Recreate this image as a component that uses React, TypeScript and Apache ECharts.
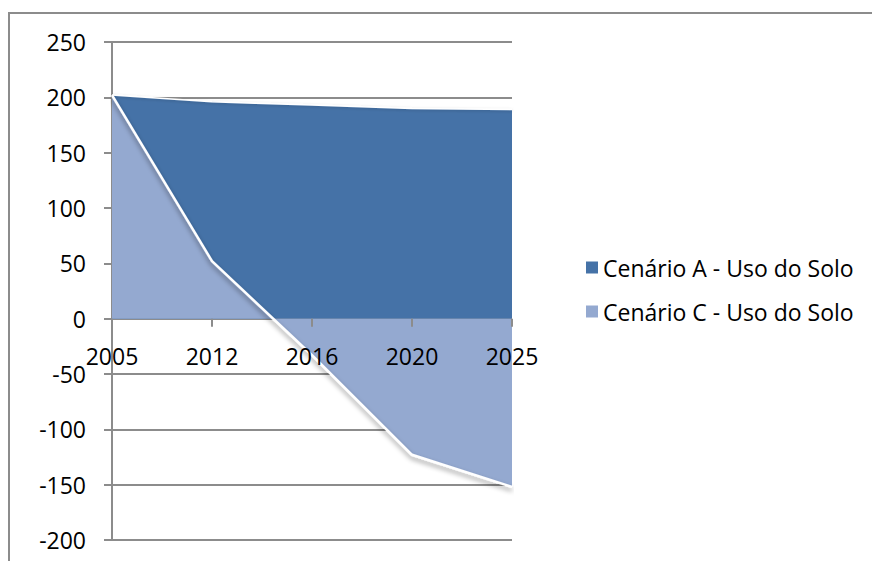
import React, { useEffect, useRef } from "react";
import * as echarts from "echarts";

const years = ["2005", "2012", "2016", "2020", "2025"];
const cenarioA = [202, 196, 193, 190, 189];
const cenarioC = [202, 52, -33, -123, -152];
const seriesNames = ["Cenário A - Uso do Solo", "Cenário C - Uso do Solo"];
const yMin = -200;
const yMax = 250;

const FONT = "Open Sans";

export default function App() {
  const ref = useRef<HTMLDivElement>(null);
  useEffect(() => {
    if (!ref.current) return;
    const chart = echarts.init(ref.current, null, { renderer: "svg" });
    const gridTop = 42;
    const gridBottom = 21;
    const plotH = 561 - gridTop - gridBottom;
    const zeroOffset = -(plotH * (0 - yMin)) / (yMax - yMin);
    chart.setOption({
      animation: false,
      backgroundColor: "#ffffff",
      textStyle: { fontFamily: FONT },
      graphic: [
        {
          type: "rect",
          shape: { x: 9, y: 13, width: 880, height: 600 },
          style: { fill: "none", stroke: "#8c8c8c", lineWidth: 2 },
          silent: true,
        },
      ],
      grid: {
        left: 112,
        right: 360,
        top: gridTop,
        bottom: gridBottom,
        containLabel: false,
        outerBoundsMode: "none",
      },
      legend: {
        orient: "vertical",
        left: 581,
        top: 251,
        itemWidth: 12,
        itemHeight: 12,
        itemGap: 21,
        icon: "rect",
        textStyle: { fontFamily: FONT, fontSize: 23, color: "#000" },
        data: seriesNames,
      },
      xAxis: {
        type: "category",
        data: years,
        boundaryGap: false,
        position: "bottom",
        offset: zeroOffset,
        axisLine: {
          onZero: false,
          lineStyle: { color: "#8c8c8c", width: 2, shadowColor: "rgba(0,0,0,0.35)", shadowBlur: 4, shadowOffsetY: 2 },
        },
        axisTick: { show: true, inside: false, length: 8, lineStyle: { color: "#8c8c8c", width: 2 } },
        axisLabel: { fontFamily: FONT, fontSize: 23, color: "#000", margin: 26 },
        splitLine: { show: false },
        z: 10,
      },
      yAxis: {
        type: "value",
        min: yMin,
        max: yMax,
        interval: 50,
        axisLine: { show: true, lineStyle: { color: "#8c8c8c", width: 2 } },
        axisTick: { show: true, length: 8, lineStyle: { color: "#8c8c8c", width: 2 } },
        axisLabel: { fontFamily: FONT, fontSize: 23, color: "#000", margin: 26 },
        splitLine: { show: true, lineStyle: { color: "#8c8c8c", width: 2 } },
      },
      series: [
        {
          name: seriesNames[0],
          type: "line",
          data: cenarioA,
          symbol: "none",
          color: "#4572a7",
          lineStyle: { color: "#ffffff", width: 1.5, shadowColor: "rgba(0,0,0,0.2)", shadowBlur: 3, shadowOffsetY: 1 },
          areaStyle: { color: "#4572a7", opacity: 1 },
          z: 2,
        },
        {
          name: seriesNames[1],
          type: "line",
          data: cenarioC,
          symbol: "none",
          color: "#94a9d0",
          lineStyle: { color: "#ffffff", width: 2.5, shadowColor: "rgba(0,0,0,0.45)", shadowBlur: 5, shadowOffsetY: 3 },
          areaStyle: { color: "#94a9d0", opacity: 1 },
          z: 3,
        },
      ],
    });
    return () => chart.dispose();
  }, []);
  return (
    <div
      ref={ref}
      style={{ position: "fixed", left: 0, top: 0, width: 872, height: 561 }}
    />
  );
}
